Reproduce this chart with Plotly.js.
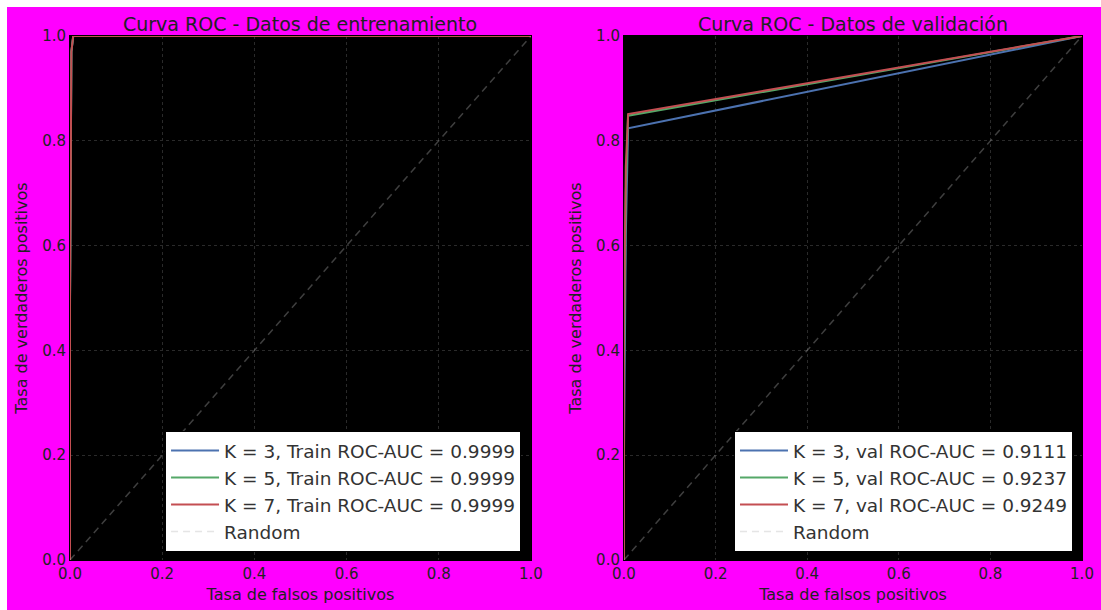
<!DOCTYPE html>
<html>
<head>
<meta charset="utf-8">
<script src="https://cdn.plot.ly/plotly-3.0.1.min.js"></script>
<style>
  html, body { margin: 0; padding: 0; background: #ffffff; }
  #chart { position: absolute; left: 7px; top: 7px; width: 1094px; height: 603px; }
</style>
</head>
<body>
<div id="chart"></div>
<script>
// ---- Data ----
const kValues = [3, 5, 7];
const trainAuc = ["0.9999", "0.9999", "0.9999"];
const valAuc = ["0.9111", "0.9237", "0.9249"];

const trainFprK3 = [0, 0, 0.003, 0.007, 1];
const trainTprK3 = [0, 0.48, 0.97, 1, 1];
const trainFprK5 = [0, 0, 0.003, 0.007, 1];
const trainTprK5 = [0, 0.49, 0.97, 1, 1];
const trainFprK7 = [0, 0, 0.003, 0.007, 1];
const trainTprK7 = [0, 0.5, 0.97, 1, 1];

const valFprK3 = [0, 0, 0.004, 0.009, 1];
const valTprK3 = [0, 0.2, 0.62, 0.824, 1];
const valFprK5 = [0, 0, 0.004, 0.009, 1];
const valTprK5 = [0, 0.35, 0.7, 0.848, 1];
const valFprK7 = [0, 0, 0.004, 0.009, 1];
const valTprK7 = [0, 0.45, 0.75, 0.851, 1];

const randomX = [0, 1];
const randomY = [0, 1];

const tickVals = [0, 0.2, 0.4, 0.6, 0.8, 1.0];
const tickText = ["0.0", "0.2", "0.4", "0.6", "0.8", "1.0"];

const titles = ["Curva ROC - Datos de entrenamiento", "Curva ROC - Datos de validación"];
const xTitle = "Tasa de falsos positivos";
const yTitle = "Tasa de verdaderos positivos";

// ---- Styling ----
const colors = ["#4C72B0", "#55A868", "#C44E52"];
const font = "DejaVu Sans, sans-serif";
const textColor = "#222222";
const randomColor = "rgba(180,180,180,0.35)";

const trainFpr = [trainFprK3, trainFprK5, trainFprK7];
const trainTpr = [trainTprK3, trainTprK5, trainTprK7];
const valFpr = [valFprK3, valFprK5, valFprK7];
const valTpr = [valTprK3, valTprK5, valTprK7];

const traces = [];
kValues.forEach((k, i) => {
  traces.push({
    x: trainFpr[i], y: trainTpr[i], type: "scatter", mode: "lines",
    name: `K = ${k}, Train ROC-AUC = ${trainAuc[i]}`,
    line: { color: colors[i], width: 2 },
    xaxis: "x", yaxis: "y", legend: "legend"
  });
});
traces.push({
  x: randomX, y: randomY, type: "scatter", mode: "lines", name: "Random",
  line: { color: randomColor, width: 1.5, dash: "7px,5px" },
  xaxis: "x", yaxis: "y", legend: "legend"
});
kValues.forEach((k, i) => {
  traces.push({
    x: valFpr[i], y: valTpr[i], type: "scatter", mode: "lines",
    name: `K = ${k}, val ROC-AUC = ${valAuc[i]}`,
    line: { color: colors[i], width: 2 },
    xaxis: "x2", yaxis: "y2", legend: "legend2"
  });
});
traces.push({
  x: randomX, y: randomY, type: "scatter", mode: "lines", name: "Random",
  line: { color: randomColor, width: 1.5, dash: "7px,5px" },
  xaxis: "x2", yaxis: "y2", legend: "legend2"
});

function axis(domain, anchor, title, standoff) {
  return {
    domain: domain, anchor: anchor, range: [0, 1],
    tickmode: "array", tickvals: tickVals, ticktext: tickText,
    showgrid: true, gridcolor: "#2a2a2a", griddash: "dot", gridwidth: 1,
    zeroline: false, showline: true, linecolor: "#000", linewidth: 1, mirror: true,
    ticks: "", tickfont: { family: font, size: 15, color: textColor },
    title: { text: title, font: { family: font, size: 16, color: textColor }, standoff: standoff },
    fixedrange: true
  };
}

const legendBase = {
  bgcolor: "#ffffff", bordercolor: "#000000", borderwidth: 1,
  font: { family: font, size: 18.5, color: "#333333" },
  xanchor: "right", yanchor: "bottom", xref: "paper", yref: "paper",
  traceorder: "normal", itemwidth: 48
};

const layout = {
  width: 1094, height: 603,
  paper_bgcolor: "#ff00ff", plot_bgcolor: "#000000",
  margin: { l: 63, r: 19, t: 29, b: 50 },
  showlegend: true,
  xaxis: axis([0, 0.4555], "y", xTitle, 6),
  yaxis: axis([0, 1], "x", yTitle, 10),
  xaxis2: axis([0.5474, 1], "y2", xTitle, 6),
  yaxis2: axis([0, 1], "x2", yTitle, 10),
  legend: Object.assign({}, legendBase, { x: 0.4457, y: 0.0155 }),
  legend2: Object.assign({}, legendBase, { x: 0.9911, y: 0.0155 }),
  annotations: [
    { text: titles[0], x: 0.4555 / 2, y: 1, xref: "paper", yref: "paper",
      xanchor: "center", yanchor: "bottom", yshift: -1, showarrow: false,
      font: { family: font, size: 19, color: textColor } },
    { text: titles[1], x: (0.5474 + 1) / 2, y: 1, xref: "paper", yref: "paper",
      xanchor: "center", yanchor: "bottom", yshift: -1, showarrow: false,
      font: { family: font, size: 19, color: textColor } }
  ]
};

Plotly.newPlot("chart", traces, layout, { displayModeBar: false, staticPlot: true });
</script>
</body>
</html>
